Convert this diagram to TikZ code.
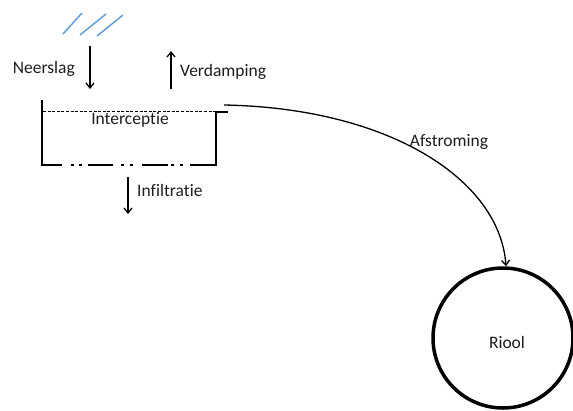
\documentclass[tikz,border=0pt]{standalone}
\usepackage{fontspec}
\setmainfont{Carlito}[Ligatures={NoCommon,NoContextual}]
\usetikzlibrary{arrows.meta}
\definecolor{rain}{RGB}{91,155,213}
\definecolor{txt}{RGB}{30,30,30}
\tikzset{
  lbl/.style={inner sep=0pt, font=\fontsize{17.5}{19}\selectfont, text=txt},
  flow/.style={line width=1.3pt, -{Straight Barb[length=5pt,width=8pt]}},
  wall/.style={line width=2.6pt},
  raindrop/.style={rain, line width=1.4pt},
}
\begin{document}
\begin{tikzpicture}[x=1pt,y=-1pt]
\useasboundingbox (0,0) rectangle (573,410);
\fill[white] (0,0) rectangle (573,410);

% rain
\draw[raindrop] (63,34) -- (82,13);
\draw[raindrop] (80,35) -- (106,14);
\draw[raindrop] (97,36) -- (123,15);

% precipitation and evaporation
\coordinate (n1) at (90,46);
\coordinate (n2) at (90,89);
\draw[flow] (n1) -- (n2);
\node[lbl, anchor=east] (neerslag) at (75,69) {Neerslag};

\coordinate (v1) at (171,89);
\coordinate (v2) at (171,51);
\draw[flow] (v1) -- (v2);
\node[lbl, anchor=west] (verdamping) at (180,72) {Verdamping};

% interception storage
\draw[wall] (42,100) -- (42,165) -- (62,165);
\draw[wall] (71,165) -- (74,165);
\draw[wall] (79,165) -- (82,165);
\draw[wall] (88,165) -- (113,165);
\draw[wall] (121,165) -- (124,165);
\draw[wall] (130,165) -- (133,165);
\draw[wall] (142,165) -- (168,165);
\draw[wall] (171,165) -- (174,165);
\draw[wall] (180,165) -- (183,165);
\draw[wall] (190,165) -- (216,165) -- (216,112) -- (228,112);
\draw[line width=1pt, dash pattern=on 3pt off 1.6pt] (43,111) -- (226,111);
\node[lbl] (interceptie) at (130,120) {Intercept\kern0pt ie};

% infiltration
\coordinate (i1) at (128,177);
\coordinate (i2) at (128,214);
\draw[flow] (i1) -- (i2);
\node[lbl, anchor=west] (infiltratie) at (137,190) {Infiltrat\kern0pt ie};

% sewer
\node[draw, circle, line width=3.5pt, minimum size=140pt, inner sep=0pt] (riool) at (503,338) {};
\node[lbl] (rioollbl) at (507,342) {Riool};

% runoff
\coordinate (a1) at (224,105);
\draw[flow] (a1) .. controls (390,108) and (500,180) .. ([xshift=3pt]riool.north);
\node[lbl] (afstroming) at (449,142) {Afstroming};
\end{tikzpicture}
\end{document}
